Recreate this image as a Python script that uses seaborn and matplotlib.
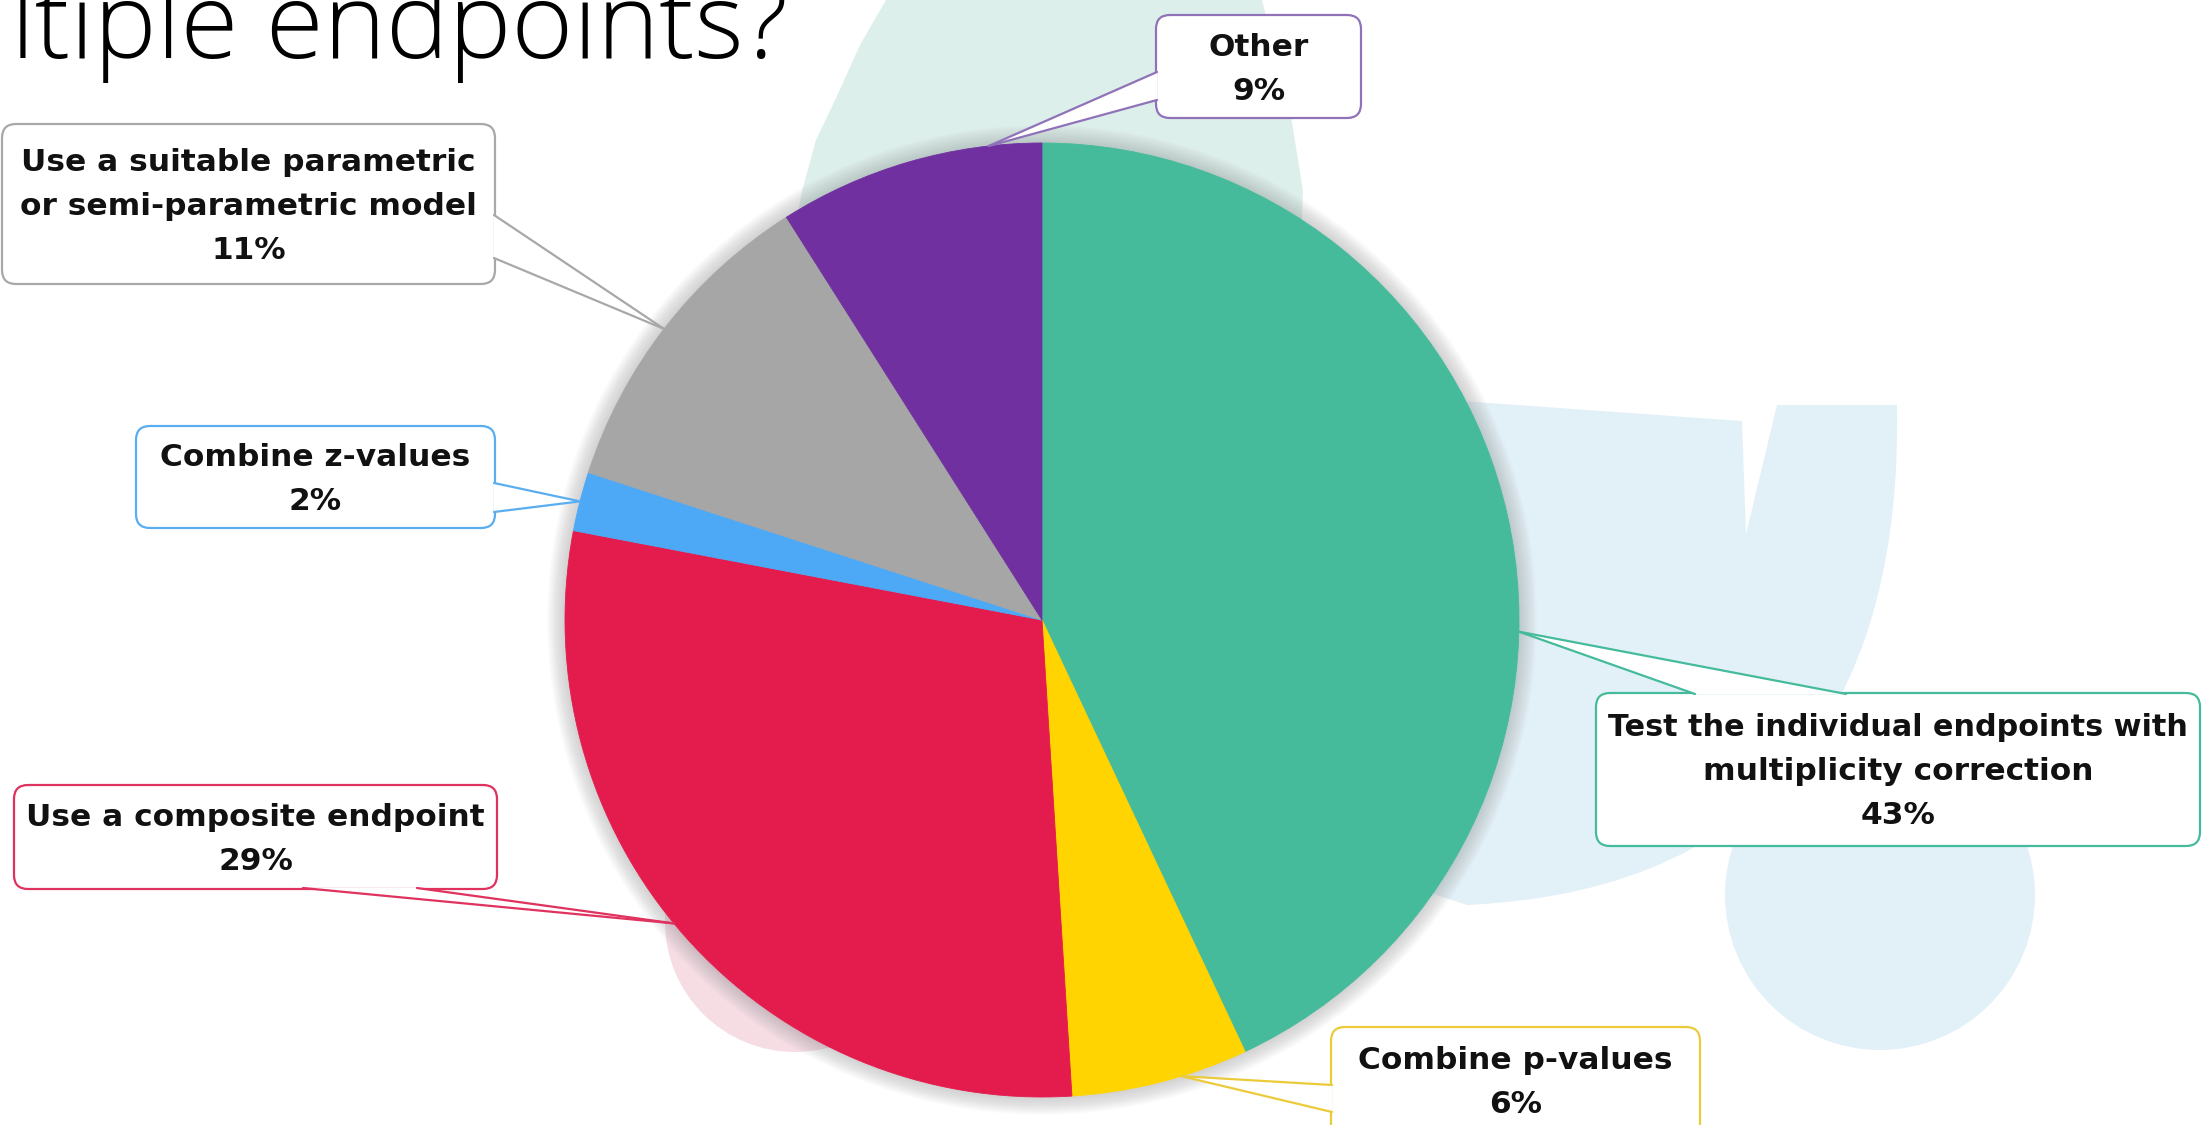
import numpy as np
import matplotlib
matplotlib.use("Agg")
import matplotlib.pyplot as plt
from matplotlib.patches import FancyBboxPatch, Polygon, Circle, PathPatch
from matplotlib.path import Path
import seaborn as sns

# ---- survey data -------------------------------------------------------
categories = [
    "Test the individual endpoints with\nmultiplicity correction",
    "Combine p-values",
    "Use a composite endpoint",
    "Combine z-values",
    "Use a suitable parametric\nor semi-parametric model",
    "Other",
]
shares = [43, 6, 29, 2, 11, 9]
slice_colors = ["#45BB9C", "#FFD400", "#E41B4D", "#4DA9F6", "#A6A6A6", "#7030A0"]
edge_colors = ["#45BB9C", "#EBCB3A", "#E0325E", "#5AAEF0", "#A8A8A8", "#8F72B8"]
title_text = "ltiple endpoints?"

# ---- layout (pixel units, y measured downward) ---------------------------
W, H = 2203, 1125
CX, CY, R = 1042, 620, 477

# callout boxes: x0, y0, x1, y1
boxes = [
    (1596, 693, 2200, 846),
    (1331, 1027, 1700, 1140),
    (14, 785, 497, 889),
    (136, 426, 495, 528),
    (2, 124, 495, 284),
    (1156, 15, 1361, 118),
]
# where each pointer leaves its box (two base points) and its angle on the pie
pointer_bases = [
    [(1695, 694), (1846, 694)],
    [(1332, 1085), (1332, 1112)],
    [(303, 888), (417, 888)],
    [(494, 483), (494, 512)],
    [(494, 215), (494, 258)],
    [(1157, 72), (1157, 100)],
]
pointer_angles = [91.4, 163.0, 230.5, 284.4, 307.6, 353.6]
# vertical centre of the text block in boxes cut by the lower edge
text_centres = [None, 1080, None, None, None, None]
line_gap = 44
label_size = 22.5


def Y(y):
    return H - y


sns.set_theme(style="white")
plt.rcParams["font.family"] = ["DejaVu Sans"]

fig = plt.figure(figsize=(W / 100, H / 100), dpi=100)
fig.patch.set_facecolor("white")
ax = fig.add_axes([0, 0, 1, 1])

# faint watermark shapes behind the chart
teal_bg = [(886, 0), (1262, 0), (1290, 110), (1303, 191), (1300, 260),
           (1250, 420), (850, 420), (791, 249), (802, 191), (816, 140),
           (837, 96), (860, 45)]
ax.add_patch(Polygon([(x, Y(y)) for x, y in teal_bg], closed=True,
                     facecolor="#DDEFEB", edgecolor="none", zorder=0))

blue_verts = [(1447, 400), (1742, 421), (1746, 534), (1777, 405), (1897, 405),
              (1902, 680), (1790, 890), (1467, 905),
              (1300, 850), (1447, 400)]
blue_codes = [Path.MOVETO, Path.LINETO, Path.LINETO, Path.LINETO, Path.LINETO,
              Path.CURVE4, Path.CURVE4, Path.CURVE4,
              Path.LINETO, Path.CLOSEPOLY]
ax.add_patch(PathPatch(Path([(x, Y(y)) for x, y in blue_verts], blue_codes),
                       facecolor="#E2F1F8", edgecolor="none", zorder=0))
ax.add_patch(Circle((1880, Y(895)), 155, facecolor="#E2F1F8",
                    edgecolor="none", zorder=0))
ax.add_patch(Circle((795, Y(922)), 130, facecolor="#F6DCE3",
                    edgecolor="none", zorder=0))

# soft shadow around the pie
for k in range(18, 0, -1):
    ax.add_patch(Circle((CX, Y(CY)), R + k, facecolor="#808080",
                        edgecolor="none", alpha=0.018, zorder=1))

wedges, _ = ax.pie(
    shares,
    colors=sns.color_palette(slice_colors),
    startangle=90,
    counterclock=False,
    center=(CX, Y(CY)),
    radius=R,
    wedgeprops=dict(linewidth=0.6),
    frame=True,
)
for w, c in zip(wedges, slice_colors):
    w.set_edgecolor(c)
    w.set_zorder(2)

ax.set_xlim(0, W)
ax.set_ylim(0, H)
ax.set_aspect("equal")
ax.set_axis_off()

renderer = fig.canvas.get_renderer()

# callouts
for cat, val, box, bases, ang, ec, tc in zip(categories, shares, boxes,
                                             pointer_bases, pointer_angles,
                                             edge_colors, text_centres):
    x0, y0, x1, y1 = box
    ax.add_patch(FancyBboxPatch((x0, Y(y1)), x1 - x0, y1 - y0,
                                boxstyle="round,pad=0,rounding_size=14",
                                facecolor="white", edgecolor=ec,
                                linewidth=1.6, zorder=5))
    a = np.deg2rad(ang)
    tip = (CX + R * np.sin(a), CY - R * np.cos(a))
    (bx0, by0), (bx1, by1) = bases
    ax.add_patch(Polygon([(bx0, Y(by0)), (tip[0], Y(tip[1])), (bx1, Y(by1))],
                         closed=True, facecolor="white", edgecolor="none", zorder=6))
    for bx, by in bases:
        ax.plot([bx, tip[0]], [Y(by), Y(tip[1])], color=ec, lw=1.6,
                solid_capstyle="round", zorder=7)

    lines = cat.split("\n") + [f"{val}%"]
    cx = (x0 + x1) / 2
    cy = (y0 + y1) / 2 if tc is None else tc
    n = len(lines)
    max_w = (x1 - x0) - 22
    for i, ln in enumerate(lines):
        yc = cy + (i - (n - 1) / 2) * line_gap
        t = ax.text(cx, Y(yc + 11), ln, ha="center", va="baseline",
                    fontsize=label_size, fontweight="bold", color="#111111",
                    zorder=8)
        w_px = t.get_window_extent(renderer).width
        if w_px > max_w:
            t.set_fontsize(label_size * max_w / w_px)

# slide heading, cropped at the top edge
fig.text(11 / W, 1 - 58 / H, title_text, ha="left", va="baseline",
         fontsize=76, family=["Open Sans", "DejaVu Sans"], fontweight="light",
         color="#000000")

fig.savefig("out.png", dpi=100, facecolor="white")
